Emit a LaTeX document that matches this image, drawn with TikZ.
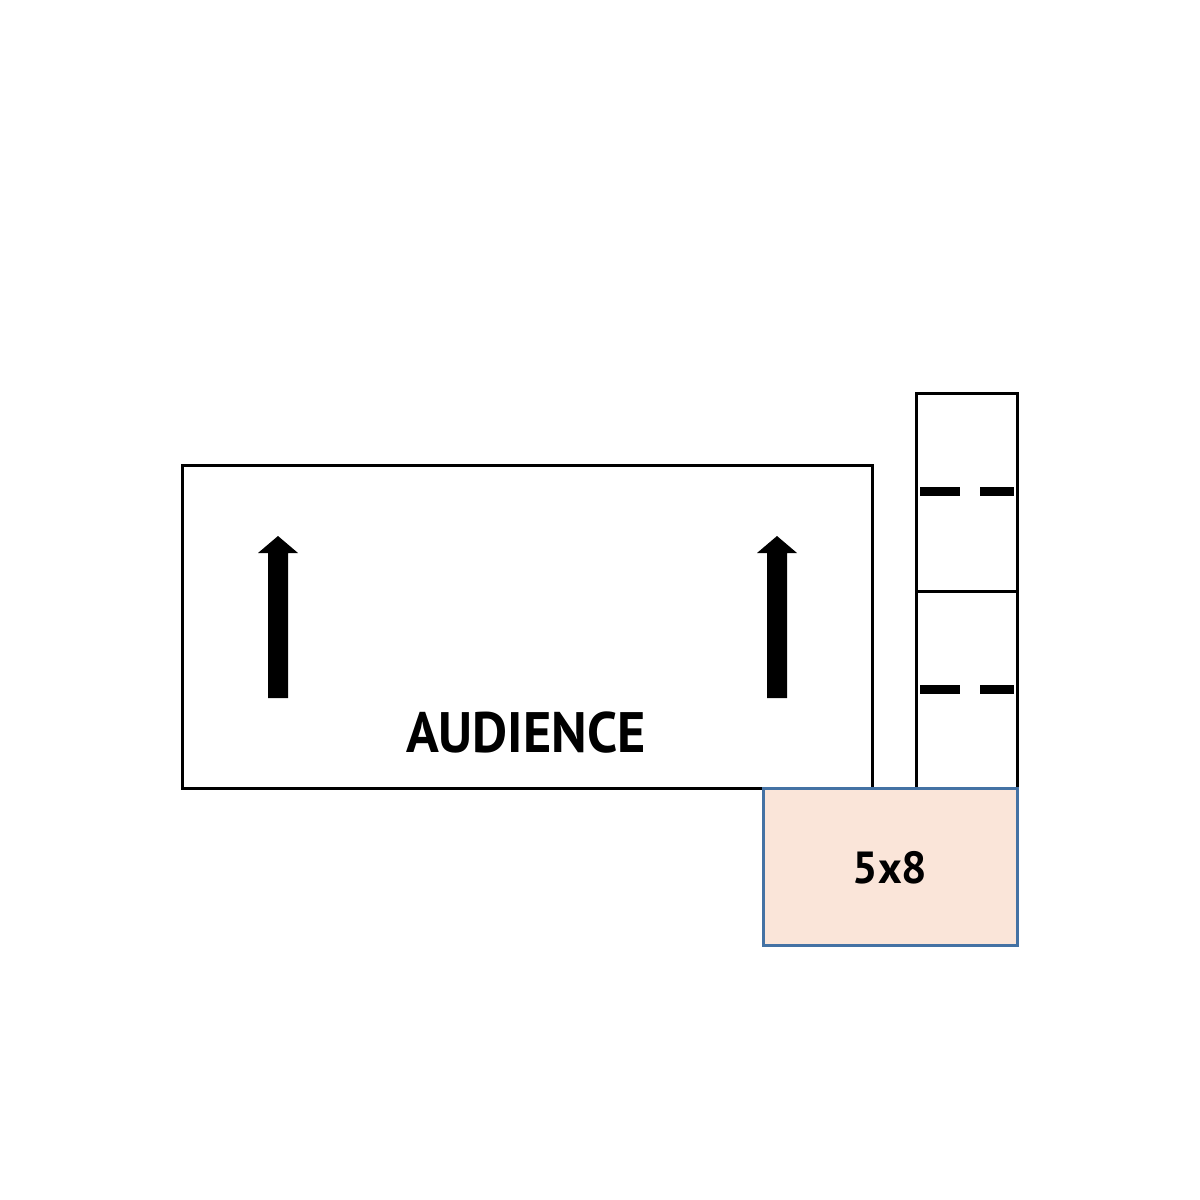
\documentclass[tikz,border=0pt]{standalone}
\usepackage{fontspec}
\setmainfont{PT Sans}
\begin{document}
\begin{tikzpicture}[x=1pt,y=-1pt,
  outline/.style={draw=black,line width=3pt},
  uparrow/.style={fill=black},
  dashbar/.style={fill=black},
  lbl/.style={font=\bfseries\fontsize{57}{57}\selectfont,inner sep=0pt,anchor=center,xscale=0.95}]
\useasboundingbox[fill=white] (0,0) rectangle (1200,1200);
% audience area
\draw[outline] (182,465) rectangle (872,788);
\node[lbl] (aud) at (526,733) {AUDIENCE};
% arrows
\fill[uparrow] (268,698) -- (268,553) -- (258,553) -- (278,536) -- (298,553) -- (288,553) -- (288,698) -- cycle;
\fill[uparrow] (767,698) -- (767,553) -- (757,553) -- (777,536) -- (797,553) -- (787,553) -- (787,698) -- cycle;
% right column
\draw[outline] (916,393) rectangle (1017,788);
\draw[outline] (916,591) -- (1017,591);
\fill[dashbar] (920,487) rectangle (960,496);
\fill[dashbar] (980,487) rectangle (1014,496);
\fill[dashbar] (920,685) rectangle (960,694);
\fill[dashbar] (980,685) rectangle (1014,694);
% 5x8 box
\definecolor{boxfill}{HTML}{FAE5D9}
\definecolor{boxline}{HTML}{4472A4}
\draw[fill=boxfill,draw=boxline,line width=3pt] (763,788) rectangle (1017,945);
\node[font=\bfseries\fontsize{45}{45}\selectfont,inner sep=0pt] (sz) at (890,868) {5x8};
\end{tikzpicture}
\end{document}
